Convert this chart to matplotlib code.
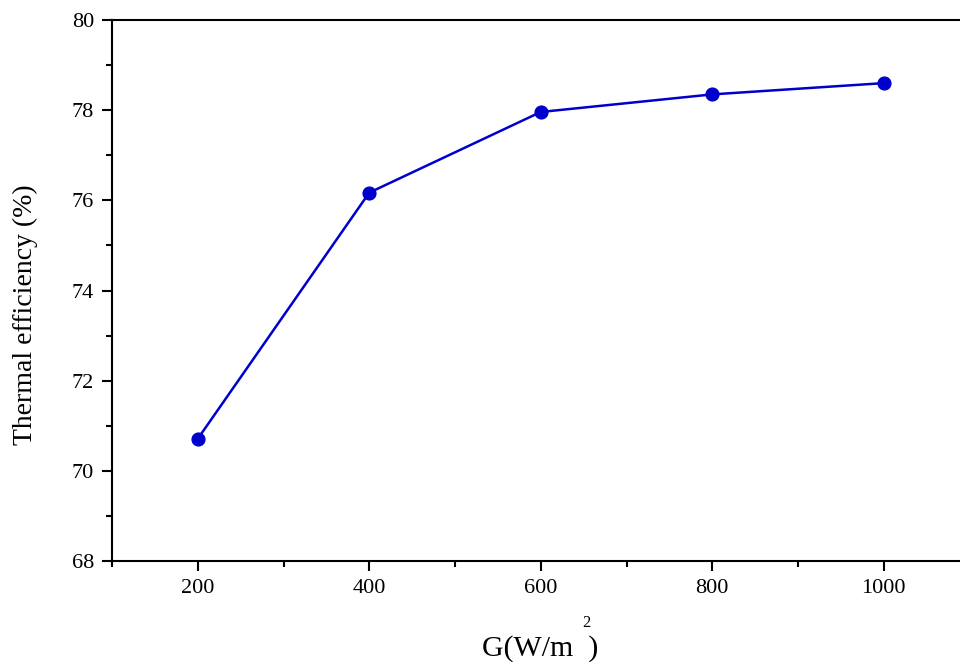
import matplotlib.pyplot as plt
from matplotlib.ticker import MultipleLocator

# === Data ===
irradiance = [200, 400, 600, 800, 1000]
efficiency = [70.71, 76.17, 77.96, 78.35, 78.60]

plt.rcParams['font.family'] = ['Liberation Serif', 'DejaVu Serif']

fig = plt.figure(figsize=(9.6, 6.62), dpi=100)
# axes runs past the right edge, as in the cropped original
ax = fig.add_axes([112 / 960, 1 - 561 / 662, 857.5 / 960, 541 / 662])

ax.plot(irradiance, efficiency, color='#0000CC', linewidth=1.8,
        marker='o', markersize=9.2, clip_on=False)

ax.set_xlim(100, 1100)
ax.set_ylim(68, 80)
ax.xaxis.set_major_locator(MultipleLocator(200))
ax.xaxis.set_minor_locator(MultipleLocator(100))
ax.yaxis.set_major_locator(MultipleLocator(2))
ax.yaxis.set_minor_locator(MultipleLocator(1))

for s in ax.spines.values():
    s.set_linewidth(1.5)
ax.spines['right'].set_visible(False)

ax.tick_params(which='major', direction='out', length=7, width=1.5,
               labelsize=16, pad=6)
ax.tick_params(which='minor', direction='out', length=4, width=1.5)
ax.tick_params(top=False, right=False)

ax.set_ylabel("Thermal efficiency (%)", fontsize=20)
ax.yaxis.set_label_coords(-74 / 857.5, (561 - 315) / 541)

# x label with the detached superscript
fig.text(482 / 960, 1 - 656 / 662, "G(W/m  )", fontsize=21.5,
         ha='left', va='baseline')
fig.text(582 / 960, 1 - 627 / 662, "2", fontsize=12,
         ha='left', va='baseline')

fig.savefig("out.png", dpi=100)
